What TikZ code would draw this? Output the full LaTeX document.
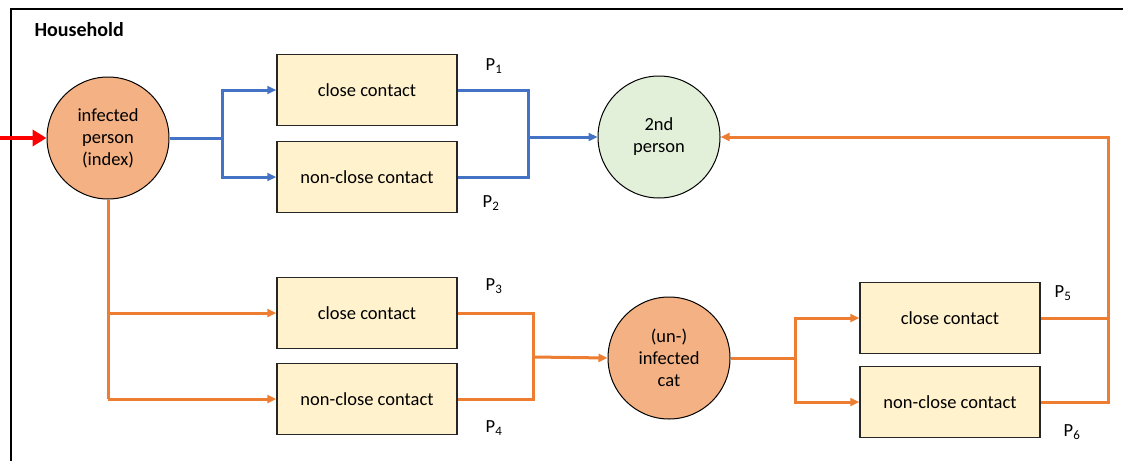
\documentclass[tikz,border=0pt]{standalone}
\usepackage{fontspec}
\setmainfont{Carlito}
\usetikzlibrary{arrows.meta}
\definecolor{cblue}{HTML}{4472C4}
\definecolor{corange}{HTML}{ED7D31}
\definecolor{cfillor}{HTML}{F4B183}
\definecolor{cgreen}{HTML}{E2F0D9}
\definecolor{cbox}{HTML}{FFF2CC}
\begin{document}
\begin{tikzpicture}[x=1pt,y=-1pt,
  font=\fontsize{18.5}{22}\selectfont,
  person/.style={circle,draw=black,line width=1pt,minimum size=122pt,inner sep=0pt,align=center},
  contact/.style={rectangle,draw=black!85,line width=1.5pt,fill=cbox,minimum width=180pt,minimum height=71pt,inner sep=0pt},
  bline/.style={cblue,line width=3pt},
  oline/.style={corange,line width=3pt},
  tip/.style={-{Triangle[length=9pt,width=8pt]}},
  plab/.style={inner sep=0pt}]
\useasboundingbox (0,0) rectangle (1123,460);
\draw[line width=1.5pt] (1130,9) -- (11,9) -- (11,470);
\node[font=\fontsize{20}{24}\selectfont\bfseries,anchor=west] (hh) at (31,30) {Household};
% nodes
\node[person,fill=cfillor] (idx) at (108,138) {infected\\person\\(index)};
\node[person,fill=cgreen] (p2) at (659,137) {2nd\\person};
\node[person,fill=cfillor] (cat) at (669,358) {(un-)\\infected\\cat};
\node[contact] (c1) at (367,90) {close contact};
\node[contact] (n1) at (367,177) {non-close contact};
\node[contact] (c2) at (367,313) {close contact};
\node[contact] (n2) at (367,399) {non-close contact};
\node[contact] (c3) at (950,318) {close contact};
\node[contact] (n3) at (950,402) {non-close contact};
% labels
\node[plab] (l1) at (494,66) {P$_{\mathrm{1}}$};
\node[plab] (l2) at (491,203) {P$_{\mathrm{2}}$};
\node[plab] (l3) at (494,286) {P$_{\mathrm{3}}$};
\node[plab] (l4) at (494,428) {P$_{\mathrm{4}}$};
\node[plab] (l5) at (1063,293) {P$_{\mathrm{5}}$};
\node[plab] (l6) at (1072,432) {P$_{\mathrm{6}}$};
% coordinates
\coordinate (in) at (0,138);
\coordinate (bs) at (222,138);
\coordinate (bj) at (528,137);
\coordinate (oj) at (533,357);
\coordinate (cs) at (795,358);
\coordinate (rj) at (1108,318);
% red input
\draw[red,line width=3.5pt,-{Triangle[length=14pt,width=16pt]}] (in) -- (idx.west);
% blue
\draw[bline] (idx.east) -- (bs);
\draw[bline,tip] (bs) |- (c1.west);
\draw[bline,tip] (bs) |- (n1.west);
\draw[bline] (c1.east) -| (bj) |- (n1.east);
\draw[bline,tip] (bj) -- (p2.west);
% orange lower-left
\draw[oline] (idx.south) -- (idx.south |- n2.west);
\draw[oline,tip] (idx.south |- n2.west) -- (n2.west);
\draw[oline,tip] (idx.south |- c2.west) -- (c2.west);
\draw[oline] (c2.east) -| (oj) |- (n2.east);
\draw[oline,tip] (oj) -- (cat.west);
% orange right
\draw[oline] (cat.east) -- (cs);
\draw[oline,tip] (cs) |- (c3.west);
\draw[oline,tip] (cs) |- (n3.west);
\draw[oline] (c3.east) -- (c3.east -| rj);
\draw[oline,tip] (n3.east) -| (rj) |- (p2.east);
\end{tikzpicture}
\end{document}
